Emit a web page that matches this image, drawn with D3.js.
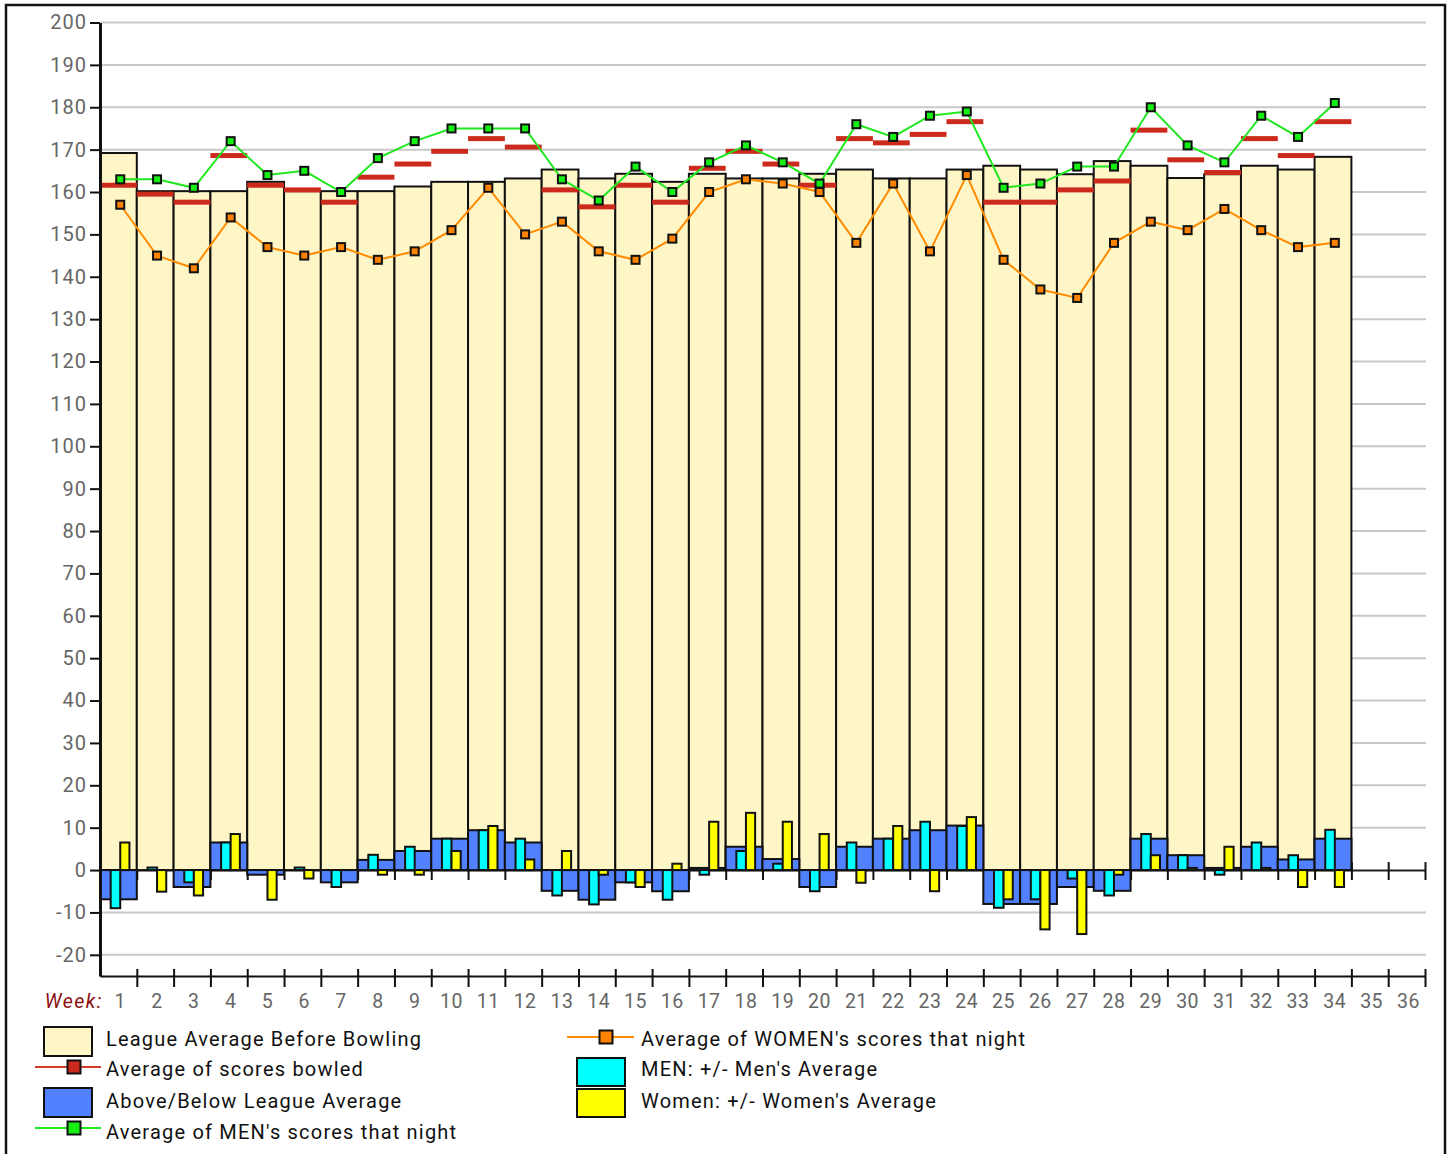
<!DOCTYPE html>
<html>
<head>
<meta charset="utf-8">
<script src="https://cdn.jsdelivr.net/npm/d3@7"></script>
<style>
body { margin: 0; background: #fff; }
text { font-family: Roboto, sans-serif; }
</style>
</head>
<body>
<div id="chart"></div>
<script>

//weeks on the x axis (36 slots, data for 34)
var weeks = ["1","2","3","4","5","6","7","8","9","10","11","12","13","14","15","16","17","18",
    "19","20","21","22","23","24","25","26","27","28","29","30","31","32","33","34","35","36"];

var yTicks = [-20,-10,0,10,20,30,40,50,60,70,80,90,100,110,120,130,140,150,160,170,180,190,200];

//League Average Before Bowling
var leagueAvg = [169.2,160.2,160.2,160.2,162.4,160.2,160.2,160.2,161.3,162.4,162.4,163.2,165.3,163.2,164.3,162.4,164.3,163.2,
    163.2,164.3,165.3,163.2,163.2,165.3,166.2,165.3,164.2,167.3,166.2,163.3,164.2,166.2,165.3,168.3];

//Average of scores bowled
var avgBowled = [161.6,159.5,157.6,168.6,161.6,160.5,157.6,163.5,166.6,169.6,172.6,170.6,160.5,156.5,161.6,157.6,165.6,169.6,
    166.6,161.6,172.6,171.6,173.6,176.6,157.6,157.6,160.5,162.6,174.6,167.6,164.6,172.6,168.6,176.6];

//Above/Below League Average
var aboveBelow = [-6.9,0,-4,6.5,-1.1,0,-2.9,2.4,4.5,7.4,9.4,6.5,-4.9,-7,-2.9,-5,0.5,5.5,
    2.6,-4,5.5,7.4,9.4,10.5,-8,-8,-4,-4.9,7.4,3.5,0.5,5.5,2.5,7.4];

//MEN: +/- Men's Average
var menDiff = [-9,0.6,-2.9,6.5,0,0.6,-4,3.6,5.5,7.4,9.4,7.4,-6,-8.1,-2.9,-7,-1.1,4.5,
    1.5,-5,6.5,7.4,11.4,10.4,-8.9,-6.9,-2,-6,8.5,3.5,-1.1,6.5,3.5,9.5];

//Women: +/- Women's Average
var womenDiff = [6.5,-5.1,-6,8.5,-7,-2,0,-1.1,-1.1,4.5,10.4,2.5,4.5,-1.1,-4,1.5,11.4,13.5,
    11.4,8.5,-3,10.4,-5,12.5,-6.9,-14,-15.1,-1.1,3.5,0.5,5.5,0.5,-4,-4];

//Average of MEN's scores that night
var menAvg = [163,163,161,172,164,165,160,168,172,175,175,175,163,158,166,160,167,171,
    167,162,176,173,178,179,161,162,166,166,180,171,167,178,173,181];

//Average of WOMEN's scores that night
var womenAvg = [157,145,142,154,147,145,147,144,146,151,161,150,153,146,144,149,160,163,
    162,160,148,162,146,164,144,137,135,148,153,151,156,151,147,148];


var W = 1449, H = 1154;

var svg = d3.select("#chart")
    .append("svg")
    .attr("width", W)
    .attr("height", H);

//frame round the chart
svg.append("rect")
    .attr("x", 6).attr("y", 5)
    .attr("width", 1439).attr("height", 1170)
    .attr("fill", "none")
    .attr("stroke", "#111")
    .attr("stroke-width", 2.5);

var x = d3.scaleBand().domain(weeks).range([100, 1425]).padding(0);
var bw = x.bandwidth();
var xEdge = d3.scaleLinear().domain([0, weeks.length]).range([100, 1425]);
var y = d3.scaleLinear().domain([-25, 200]).range([976, 22.5]);

function mid(i) { return x(weeks[i]) + bw * 0.55; }

//grid lines
svg.append("g")
    .selectAll("line")
    .data(yTicks.filter(function(d){ return d !== 0; }))
    .enter()
    .append("line")
    .attr("x1", 101).attr("x2", 1426)
    .attr("y1", function(d){ return y(d); })
    .attr("y2", function(d){ return y(d); })
    .attr("stroke", "#c8c8c8")
    .attr("stroke-width", 2);

//zero line with ticks at week edges
var zeroAxis = svg.append("g")
    .attr("transform", "translate(0," + y(0) + ")")
    .call(d3.axisBottom(xEdge)
        .tickValues(d3.range(1, weeks.length + 1))
        .tickSize(10)
        .tickSizeOuter(0)
        .tickFormat(""));
zeroAxis.select(".domain").attr("stroke", "#222").attr("stroke-width", 2);
zeroAxis.selectAll(".tick line").attr("y1", -8).attr("stroke", "#111").attr("stroke-width", 2);

//league average bars
svg.append("g")
    .selectAll("rect")
    .data(leagueAvg)
    .enter()
    .append("rect")
    .attr("x", function(d, i){ return x(weeks[i]); })
    .attr("y", function(d){ return y(d); })
    .attr("width", bw)
    .attr("height", function(d){ return y(0) - y(d); })
    .attr("fill", "#fff6c8")
    .attr("stroke", "#111")
    .attr("stroke-width", 2);

//above/below bars
svg.append("g")
    .selectAll("rect")
    .data(aboveBelow)
    .enter()
    .append("rect")
    .attr("x", function(d, i){ return x(weeks[i]); })
    .attr("y", function(d){ return y(Math.max(0, d)); })
    .attr("width", bw)
    .attr("height", function(d){ return Math.abs(y(0) - y(d)); })
    .attr("fill", "#5181ff")
    .attr("stroke", "#111")
    .attr("stroke-width", 2);

//men / women +/- bars
function smallBars(arr, from, to, color) {
    svg.append("g")
        .selectAll("rect")
        .data(arr)
        .enter()
        .append("rect")
        .attr("x", function(d, i){ return x(weeks[i]) + bw * from; })
        .attr("y", function(d){ return y(Math.max(0, d)); })
        .attr("width", bw * (to - from))
        .attr("height", function(d){ return Math.abs(y(0) - y(d)); })
        .attr("fill", color)
        .attr("stroke", "#111")
        .attr("stroke-width", 2);
}
smallBars(menDiff, 0.29, 0.55, "#00ffff");
smallBars(womenDiff, 0.55, 0.80, "#ffff00");

//average of scores bowled (red dashes)
svg.append("g")
    .selectAll("rect")
    .data(avgBowled)
    .enter()
    .append("rect")
    .attr("x", function(d, i){ return x(weeks[i]); })
    .attr("y", function(d){ return y(d) - 2.5; })
    .attr("width", bw)
    .attr("height", 5)
    .attr("fill", "#cc2a1c");

//lines with square markers
function lineWithMarkers(arr, lineColor, fillColor) {
    var line = d3.line()
        .x(function(d, i){ return mid(i); })
        .y(function(d){ return y(d); });

    var g = svg.append("g");
    g.append("path")
        .datum(arr)
        .attr("d", line)
        .attr("fill", "none")
        .attr("stroke", lineColor)
        .attr("stroke-width", 2);

    g.selectAll("rect")
        .data(arr)
        .enter()
        .append("rect")
        .attr("x", function(d, i){ return mid(i) - 4; })
        .attr("y", function(d){ return y(d) - 4; })
        .attr("width", 8)
        .attr("height", 8)
        .attr("fill", fillColor)
        .attr("stroke", "#111")
        .attr("stroke-width", 2);
}
lineWithMarkers(womenAvg, "#ff8c00", "#ff8200");
lineWithMarkers(menAvg, "#1fe81f", "#14f014");

//y axis
var yAxis = svg.append("g")
    .attr("transform", "translate(100,0)")
    .call(d3.axisLeft(y)
        .tickValues(yTicks)
        .tickSize(10)
        .tickSizeOuter(0)
        .tickPadding(3)
        .tickFormat(function(d){ return String(d); }));
yAxis.select(".domain").attr("stroke", "#111").attr("stroke-width", 3);
yAxis.selectAll(".tick line").attr("stroke", "#111").attr("stroke-width", 2);
yAxis.selectAll(".tick text")
    .attr("fill", "#666")
    .style("font-size", "20px")
    .style("letter-spacing", "1px")
    .style("font-family", "Roboto, sans-serif");

//bottom axis with ticks at week edges
var xAxis = svg.append("g")
    .attr("transform", "translate(0," + y(-25) + ")")
    .call(d3.axisBottom(xEdge)
        .tickValues(d3.range(1, weeks.length + 1))
        .tickSize(11)
        .tickSizeOuter(0)
        .tickFormat(""));
xAxis.select(".domain").attr("stroke", "#111").attr("stroke-width", 2);
xAxis.selectAll(".tick line").attr("y1", -7).attr("stroke", "#111").attr("stroke-width", 2);

//week labels
svg.append("g")
    .selectAll("text")
    .data(weeks)
    .enter()
    .append("text")
    .attr("x", function(d, i){ return mid(i); })
    .attr("y", 1008)
    .attr("text-anchor", "middle")
    .attr("fill", "#666")
    .style("font-size", "19.5px")
    .style("letter-spacing", "0.5px")
    .text(function(d){ return d; });

svg.append("text")
    .attr("x", 103)
    .attr("y", 1008)
    .attr("text-anchor", "end")
    .attr("fill", "#8b1010")
    .style("font-size", "19.5px")
    .style("font-style", "italic")
    .style("letter-spacing", "1.5px")
    .text("Week:");


//legend
var legend = svg.append("g").style("font-size", "20px").style("letter-spacing", "1.2px");

function legendBox(x0, y0, w, h, color) {
    legend.append("rect")
        .attr("x", x0).attr("y", y0)
        .attr("width", w).attr("height", h)
        .attr("fill", color)
        .attr("stroke", "#111")
        .attr("stroke-width", 2);
}
function legendLine(x0, x1, xm, yy, color, fillColor) {
    legend.append("line")
        .attr("x1", x0).attr("x2", x1)
        .attr("y1", yy).attr("y2", yy)
        .attr("stroke", color)
        .attr("stroke-width", 2);
    legend.append("rect")
        .attr("x", xm - 6.5).attr("y", yy - 6.5)
        .attr("width", 13).attr("height", 13)
        .attr("fill", fillColor)
        .attr("stroke", "#111")
        .attr("stroke-width", 2);
}
function legendText(x0, yy, label) {
    legend.append("text")
        .attr("x", x0).attr("y", yy)
        .attr("fill", "#111")
        .text(label);
}

legendBox(44, 1027, 48, 29, "#fff6c8");
legendText(106, 1046, "League Average Before Bowling");
legendLine(35, 101, 74, 1067, "#d43a2a", "#cc2a1c");
legendText(106, 1076, "Average of scores bowled");
legendBox(44, 1088, 48, 29, "#5181ff");
legendText(106, 1108, "Above/Below League Average");
legendLine(35, 101, 74, 1128, "#1fe81f", "#14f014");
legendText(106, 1139, "Average of MEN's scores that night");

legendLine(567, 634, 606, 1037, "#ff8c00", "#ff8200");
legendText(641, 1046, "Average of WOMEN's scores that night");
legendBox(577, 1058, 48, 28, "#00ffff");
legendText(641, 1076, "MEN: +/- Men's Average");
legendBox(577, 1089, 48, 28, "#ffff00");
legendText(641, 1108, "Women: +/- Women's Average");

</script>
</body>
</html>
